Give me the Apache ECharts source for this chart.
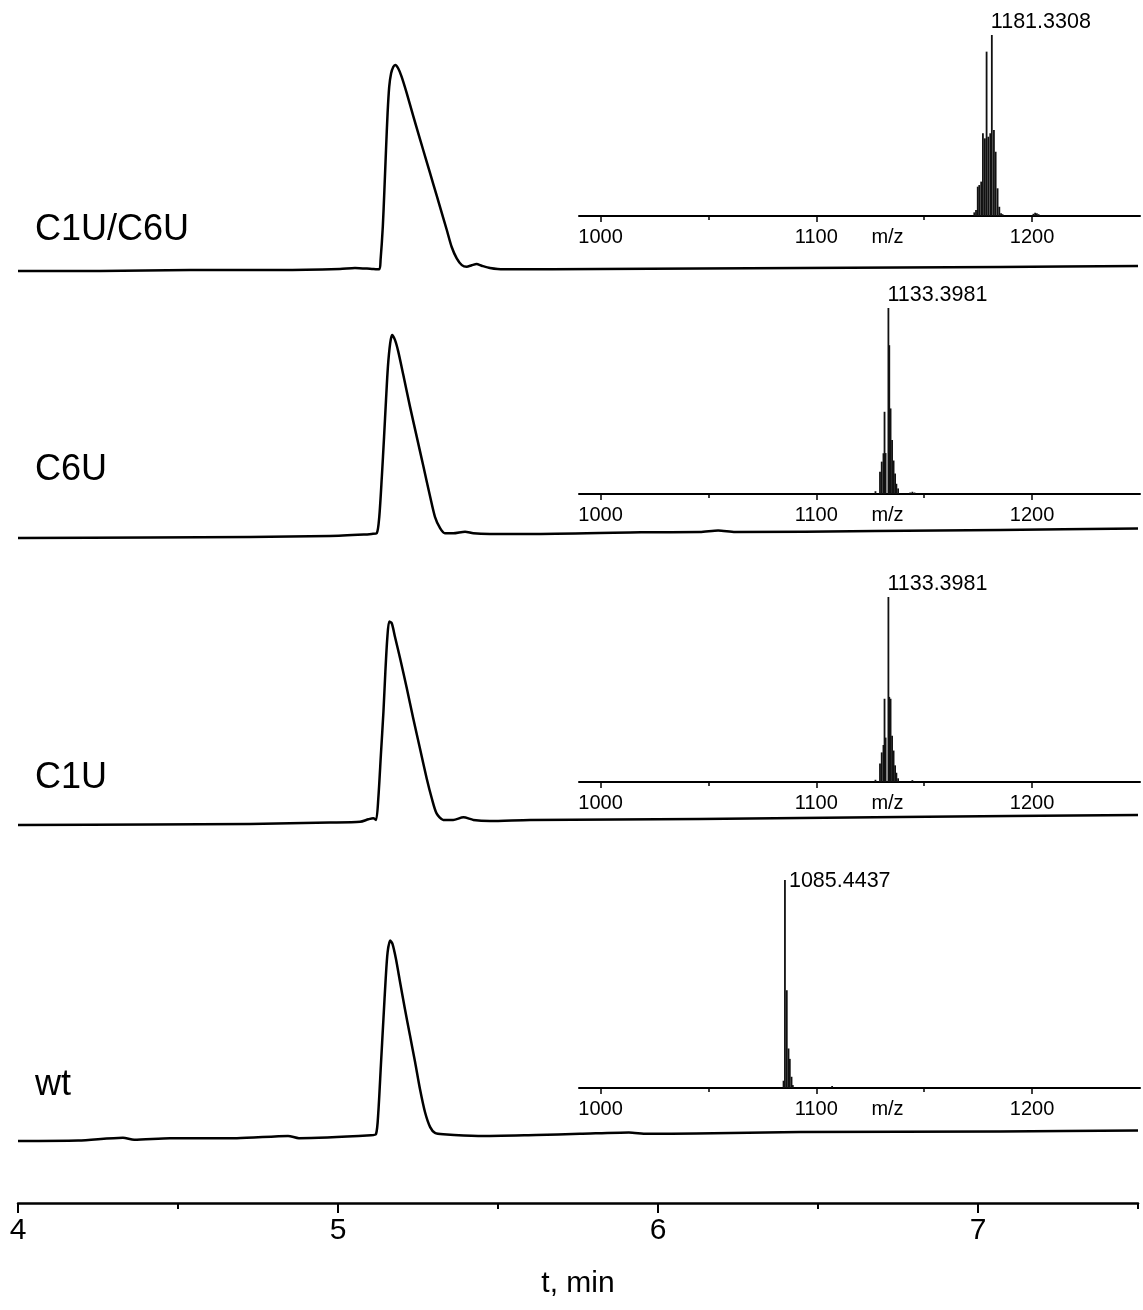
<!DOCTYPE html>
<html>
<head>
<meta charset="utf-8">
<title>LC-MS chromatograms</title>
<script src="https://cdn.jsdelivr.net/npm/echarts@6/dist/echarts.min.js"></script>
<style>
  html, body { margin: 0; padding: 0; background: #fff; }
  #chart { width: 1143px; height: 1310px; }
</style>
</head>
<body>
<div id="chart"></div>
<script>
// Sample names, top to bottom
const samples = ['C1U/C6U', 'C6U', 'C1U', 'wt'];

// Retention time axis (min)
const timeTicks = [4, 5, 6, 7];
const timeMinorTicks = [4.5, 5.5, 6.5, 7.5];

// m/z axis of the spectrum insets
const mzTicks = [1000, 1100, 1200];
const mzMinorTicks = [1050, 1150];

// Chromatograms: [t (min), signal (% of peak)]
const chromC1UC6U = [
  [4.000, 0], [4.256, 0], [4.538, 0.5], [4.819, 0.5], [5.006, 1.0], [5.053, 1.5], [5.106, 1.0],
  [5.129, 0.8], [5.133, 5.4], [5.140, 21.7], [5.145, 39.7], [5.150, 59.3], [5.155, 77.5],
  [5.160, 90.3], [5.166, 96.9], [5.173, 100.1], [5.179, 101.0], [5.188, 99.4], [5.199, 95.2],
  [5.215, 87.1], [5.235, 76.0], [5.256, 64.8], [5.277, 53.6], [5.298, 42.5], [5.319, 31.3],
  [5.340, 20.1], [5.355, 11.9], [5.371, 6.2], [5.387, 2.9], [5.402, 2.1], [5.418, 2.8],
  [5.433, 3.4], [5.449, 2.6], [5.475, 1.5], [5.517, 0.8], [5.819, 1.0], [6.131, 1.2],
  [6.444, 1.5], [6.756, 1.7], [7.069, 2.0], [7.500, 2.5]
];
const chromC6U = [
  [4.000, 0], [4.413, 0.2], [4.725, 0.5], [4.975, 1.0], [5.081, 1.7], [5.105, 2.0], [5.121, 2.3],
  [5.129, 10.4], [5.137, 30.0], [5.144, 49.7], [5.150, 67.6], [5.156, 84.0], [5.163, 95.4],
  [5.169, 99.5], [5.178, 97.1], [5.188, 91.6], [5.204, 80.0], [5.225, 64.4], [5.246, 49.7],
  [5.267, 35.0], [5.288, 20.2], [5.303, 10.4], [5.319, 4.8], [5.334, 2.3], [5.360, 2.3],
  [5.397, 3.1], [5.423, 2.3], [5.475, 2.0], [5.600, 2.0], [5.947, 2.8], [6.131, 2.9],
  [6.188, 3.7], [6.241, 2.9], [6.678, 3.4], [7.069, 3.9], [7.500, 4.7]
];
const chromC1U = [
  [4.000, 0], [4.413, 0.2], [4.725, 0.5], [4.975, 1.2], [5.069, 1.6], [5.095, 2.8], [5.110, 3.3],
  [5.119, 2.5], [5.126, 13.1], [5.134, 34.3], [5.142, 55.5], [5.148, 75.1], [5.154, 91.5],
  [5.160, 99.7], [5.168, 98.9], [5.178, 92.3], [5.194, 81.7], [5.215, 67.0], [5.235, 52.3],
  [5.256, 37.6], [5.277, 22.9], [5.293, 13.1], [5.308, 5.7], [5.329, 2.5], [5.360, 2.5],
  [5.392, 3.8], [5.423, 2.5], [5.475, 2.0], [5.600, 2.5], [6.131, 2.9], [6.756, 3.9], [7.500, 4.9]
];
const chromWt = [
  [4.000, 0], [4.188, 0.2], [4.328, 1.6], [4.363, 0.6], [4.475, 1.4], [4.684, 1.4], [4.844, 2.5],
  [4.878, 1.4], [5.103, 2.8], [5.119, 3.5], [5.126, 14.1], [5.134, 37.0], [5.142, 59.9],
  [5.149, 79.5], [5.155, 92.5], [5.163, 98.3], [5.170, 96.7], [5.181, 89.3], [5.194, 77.8],
  [5.209, 64.8], [5.225, 51.7], [5.241, 38.6], [5.256, 25.6], [5.272, 14.1], [5.288, 6.8],
  [5.303, 4.0], [5.329, 3.3], [5.438, 2.5], [5.619, 3.0], [5.756, 3.5], [5.909, 4.2],
  [5.966, 3.5], [6.119, 3.7], [6.444, 4.4], [7.069, 4.7], [7.500, 5.1]
];

// Mass spectra: [m/z, relative intensity (%)]
const specC1UC6U = [
  [1173.2, 2.0], [1174.0, 3.3], [1174.8, 16.2], [1175.5, 17.1], [1176.4, 19.0], [1177.2, 45.7],
  [1178.1, 42.9], [1178.9, 90.8], [1179.7, 43.8], [1180.6, 45.7], [1181.3308, 100], [1182.3, 47.5],
  [1183.1, 35.5], [1184.0, 15.3], [1184.8, 5.1], [1185.6, 1.5], [1186.3, 1.0],
  [1200.6, 1.2], [1201.4, 1.8], [1202.2, 1.5], [1203.0, 1.0]
];
const specC6U = [
  [1127.4, 1.5], [1129.5, 12], [1130.3, 17.4], [1131.1, 21.9], [1131.6, 44.2], [1132.1, 22],
  [1133.3981, 100], [1133.8, 80], [1134.4, 46], [1135.1, 29], [1135.8, 18], [1136.5, 11],
  [1137.1, 5.5], [1137.9, 3], [1143.5, 0.8], [1144.5, 1.2], [1145.5, 0.8]
];
const specC1U = [
  [1127.4, 1.2], [1129.5, 10], [1130.3, 16], [1131.1, 20], [1131.6, 45], [1132.1, 24],
  [1133.3981, 100], [1133.8, 46], [1134.4, 45], [1135.1, 25], [1135.8, 17], [1136.5, 9],
  [1137.1, 5], [1137.9, 2], [1144.5, 1.0]
];
const specWt = [
  [1084.8, 3.5], [1085.4437, 100], [1086.3, 47], [1087.1, 19], [1087.7, 14], [1088.5, 5.4],
  [1089.1, 1.4], [1107.3, 1.0]
];

// Annotated monoisotopic peaks
const peakMz = [1181.3308, 1133.3981, 1133.3981, 1085.4437];

const chroms = [chromC1UC6U, chromC6U, chromC1U, chromWt];
const spectra = [specC1UC6U, specC6U, specC1U, specWt];

const FONT = '"Liberation Sans", Arial, Helvetica, sans-serif';

// Layout of the stacked panels
const traceTop = [67, 334, 621, 937];        // chromatogram grids, 0..100 over 204 px
const traceHeight = 204;
const insetTop = [35, 308, 597, 880];       // spectrum grids
const insetHeight = [181, 186, 185, 208];
const nameY = [230, 470, 778, 1085];

const grids = [], xAxes = [], yAxes = [], series = [];

function addGrid(g) { grids.push(g); return grids.length - 1; }
function addX(a) { xAxes.push(a); return xAxes.length - 1; }
function addY(a) { yAxes.push(a); return yAxes.length - 1; }
function hiddenY(gi) {
  return addY({ gridIndex: gi, type: 'value', min: 0, max: 100, show: false });
}
const plain = v => String(v);

// Chromatograms
chroms.forEach((data, i) => {
  const gi = addGrid({ left: 18, right: 5, top: traceTop[i], height: traceHeight });
  const xi = addX({ gridIndex: gi, type: 'value', min: 4, max: 7.5, show: false });
  const yi = hiddenY(gi);
  series.push({
    type: 'line', xAxisIndex: xi, yAxisIndex: yi, data: data,
    showSymbol: false, smooth: 0.25, clip: false, silent: true,
    lineStyle: { color: '#000', width: 2.5, join: 'round' }, z: 2
  });
});

// Spectrum insets
spectra.forEach((data, i) => {
  const gi = addGrid({ left: 579, right: 3, top: insetTop[i], height: insetHeight[i] });
  const xi = addX({
    gridIndex: gi, type: 'value', min: 990, max: 1250, position: 'bottom',
    axisLine: { show: true, onZero: false, lineStyle: { color: '#000', width: 2 } },
    axisTick: { show: true, customValues: mzTicks, length: 6, lineStyle: { color: '#000', width: 1.5 } },
    axisLabel: { customValues: mzTicks, formatter: plain, fontSize: 20, color: '#000', margin: 11, fontFamily: FONT },
    splitLine: { show: false },
    name: 'm/z', nameLocation: 'middle', nameGap: 11, nameMoveOverlap: false,
    nameTextStyle: { fontSize: 20, color: '#000', fontFamily: FONT, padding: [0, 0, 0, 56], verticalAlign: 'top' }
  });
  addX({
    gridIndex: gi, type: 'value', min: 990, max: 1250, position: 'bottom',
    axisLine: { show: false },
    axisTick: { show: true, customValues: mzMinorTicks, length: 4, lineStyle: { color: '#000', width: 1.5 } },
    axisLabel: { show: false }, splitLine: { show: false }
  });
  const yi = hiddenY(gi);
  const labelled = data.map(d => {
    if (d[0] === peakMz[i]) {
      const right = i === 3;
      return {
        value: d,
        label: {
          show: true, position: 'top', distance: right ? 0 : 2,
          align: 'left', verticalAlign: right ? 'middle' : 'bottom',
          offset: right ? [4, 1] : [-1, 0],
          formatter: p => p.value[0].toFixed(4),
          fontSize: 21.5, color: '#000', fontFamily: FONT
        }
      };
    }
    return d;
  });
  series.push({
    type: 'bar', xAxisIndex: xi, yAxisIndex: yi, data: labelled,
    barWidth: 1.8, silent: true, itemStyle: { color: '#111' }, z: 3
  });
});

// Retention time axis
const tg = addGrid({ left: 18, right: 5, top: 1190, height: 13 });
addX({
  gridIndex: tg, type: 'value', min: 4, max: 7.5, position: 'bottom',
  axisLine: { show: true, onZero: false, lineStyle: { color: '#000', width: 2.5 } },
  axisTick: { show: true, customValues: timeTicks, length: 10, lineStyle: { color: '#000', width: 2 } },
  axisLabel: { customValues: timeTicks, formatter: plain, fontSize: 30, color: '#000', margin: 13, fontFamily: FONT },
  splitLine: { show: false },
  name: 't, min', nameLocation: 'middle', nameGap: 66, nameMoveOverlap: false,
  nameTextStyle: { fontSize: 30, color: '#000', fontFamily: FONT }
});
addX({
  gridIndex: tg, type: 'value', min: 4, max: 7.5, position: 'bottom',
  axisLine: { show: false },
  axisTick: { show: true, customValues: timeMinorTicks, length: 6, lineStyle: { color: '#000', width: 2 } },
  axisLabel: { show: false }, splitLine: { show: false }
});
hiddenY(tg);

const chart = echarts.init(document.getElementById('chart'), null, { renderer: 'canvas' });
chart.setOption({
  animation: false,
  backgroundColor: '#fff',
  grid: grids,
  xAxis: xAxes,
  yAxis: yAxes,
  series: series,
  graphic: samples.map((s, i) => ({
    type: 'text', x: 35, y: nameY[i],
    style: { text: s, fontSize: 36, fontFamily: FONT, fill: '#000', verticalAlign: 'middle' }
  }))
});
</script>
</body>
</html>
